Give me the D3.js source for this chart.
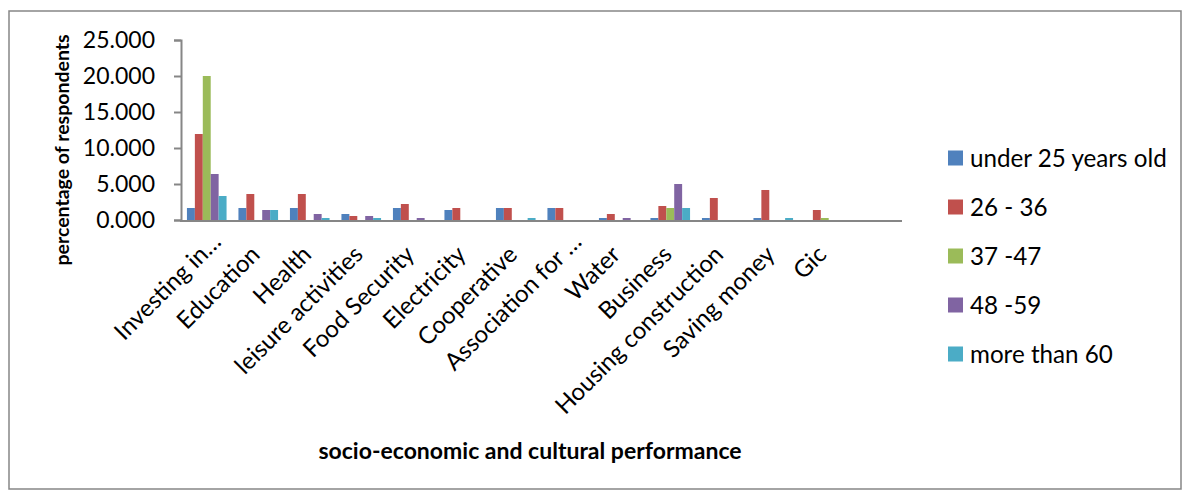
<!DOCTYPE html>
<html>
<head>
<meta charset="utf-8">
<script src="https://cdn.jsdelivr.net/npm/d3@7"></script>
<style>
  html, body { margin: 0; padding: 0; background: #fff; }
  svg { display: block; font-family: Lato, "Open Sans", sans-serif; }
</style>
</head>
<body>
<svg id="chart" width="1183" height="490"></svg>
<script>
// Categories along the x axis (the last slot is an empty category)
const categories = [
  "Investing in…", "Education", "Health", "leisure activities", "Food Security",
  "Electricity", "Cooperative", "Association for …", "Water", "Business",
  "Housing construction", "Saving money", "Gic", ""
];

// Age groups (series)
const seriesNames = ["under 25 years old", "26 - 36", "37 -47", "48 -59", "more than 60"];
const seriesColors = ["#4F81BD", "#C0504D", "#9BBB59", "#8064A2", "#4BACC6"];

// Percentage of respondents per category, one array per age group
const under25 = [1.667, 1.667, 1.667, 0.833, 1.667, 1.389, 1.667, 1.667, 0.278, 0.278, 0.278, 0.278, 0, 0];
const age26to36 = [11.944, 3.611, 3.611, 0.556, 2.222, 1.667, 1.667, 1.667, 0.833, 1.944, 3.056, 4.167, 1.389, 0];
const age37to47 = [20.000, 0, 0, 0, 0, 0, 0, 0, 0, 1.667, 0, 0, 0.278, 0];
const age48to59 = [6.389, 1.389, 0.833, 0.556, 0.278, 0, 0, 0, 0.278, 5.000, 0, 0, 0, 0];
const over60 = [3.333, 1.389, 0.278, 0.278, 0, 0, 0.278, 0, 0, 1.667, 0, 0.278, 0, 0];

const yTicks = [0, 5, 10, 15, 20, 25];
const yTitle = "percentage of respondents";
const xTitle = "socio-economic and cultural performance";

const seriesValues = [under25, age26to36, age37to47, age48to59, over60];

const svg = d3.select("#chart");
const axisColor = "#868686";

// Outer chart frame
svg.append("rect")
  .attr("x", 9).attr("y", 11)
  .attr("width", 1172).attr("height", 478)
  .attr("fill", "#fff")
  .attr("stroke", axisColor).attr("stroke-width", 1.5);

const plot = { left: 181, right: 902, top: 40, bottom: 220 };

const x = d3.scaleBand().domain(d3.range(categories.length)).range([plot.left, plot.right]);
const y = d3.scaleLinear().domain([0, 25]).range([plot.bottom, plot.top]);

// Grouped bars: five bars per category with a 150% gap
const barW = x.bandwidth() / 6.5;
const inner = d3.scaleBand().domain(d3.range(seriesNames.length))
  .range([barW * 0.75, barW * 5.75]);

const rows = [];
seriesValues.forEach((vals, s) => vals.forEach((v, i) => rows.push({ s, i, v })));

svg.append("g").selectAll("rect")
  .data(rows.filter(d => d.v > 0))
  .join("rect")
  .attr("x", d => x(d.i) + inner(d.s))
  .attr("y", d => y(d.v))
  .attr("width", inner.bandwidth())
  .attr("height", d => y(0) - y(d.v))
  .attr("fill", d => seriesColors[d.s]);

// Y axis
const yAxis = svg.append("g")
  .attr("transform", `translate(${plot.left},0)`)
  .call(d3.axisLeft(y).tickValues(yTicks).tickFormat(d3.format(".3f")).tickSizeOuter(0).tickSize(7).tickPadding(19));
yAxis.select(".domain").attr("stroke", axisColor).attr("stroke-width", 2);
yAxis.selectAll(".tick line").attr("stroke", axisColor).attr("stroke-width", 2);
yAxis.selectAll(".tick text")
  .attr("fill", "#000")
  .style("font-size", "23px")
  .style("font-family", "Lato, sans-serif");

// X axis baseline
svg.append("line")
  .attr("x1", plot.left - 1).attr("x2", plot.right)
  .attr("y1", y(0) + 1).attr("y2", y(0) + 1)
  .attr("stroke", axisColor).attr("stroke-width", 2);

// Rotated category labels
svg.append("g").selectAll("text")
  .data(categories)
  .join("text")
  .attr("transform", (d, i) => `translate(${x(i) + x.bandwidth() / 2 + 3},256) rotate(-45)`)
  .attr("x", d => d.endsWith("…") ? 18 : 0)
  .attr("text-anchor", "end")
  .style("font-size", "24px")
  .attr("fill", "#000")
  .text(d => d);

// Axis titles
svg.append("text")
  .attr("transform", "translate(69,150) rotate(-90)")
  .attr("text-anchor", "middle")
  .style("font-size", "19.5px").style("font-weight", "bold")
  .attr("fill", "#000")
  .text(yTitle);

svg.append("text")
  .attr("x", 530).attr("y", 459)
  .attr("text-anchor", "middle")
  .style("font-size", "23px").style("font-weight", "bold")
  .attr("fill", "#000")
  .text(xTitle);

// Legend
const legend = svg.append("g").selectAll("g")
  .data(seriesNames)
  .join("g")
  .attr("transform", (d, i) => `translate(948,${158 + i * 49})`);
legend.append("rect")
  .attr("x", 0).attr("y", -7.5).attr("width", 15).attr("height", 15)
  .attr("fill", (d, i) => seriesColors[i]);
legend.append("text")
  .attr("x", 22).attr("y", 8.5)
  .style("font-size", "24.2px")
  .attr("fill", "#000")
  .text(d => d);
</script>
</body>
</html>
